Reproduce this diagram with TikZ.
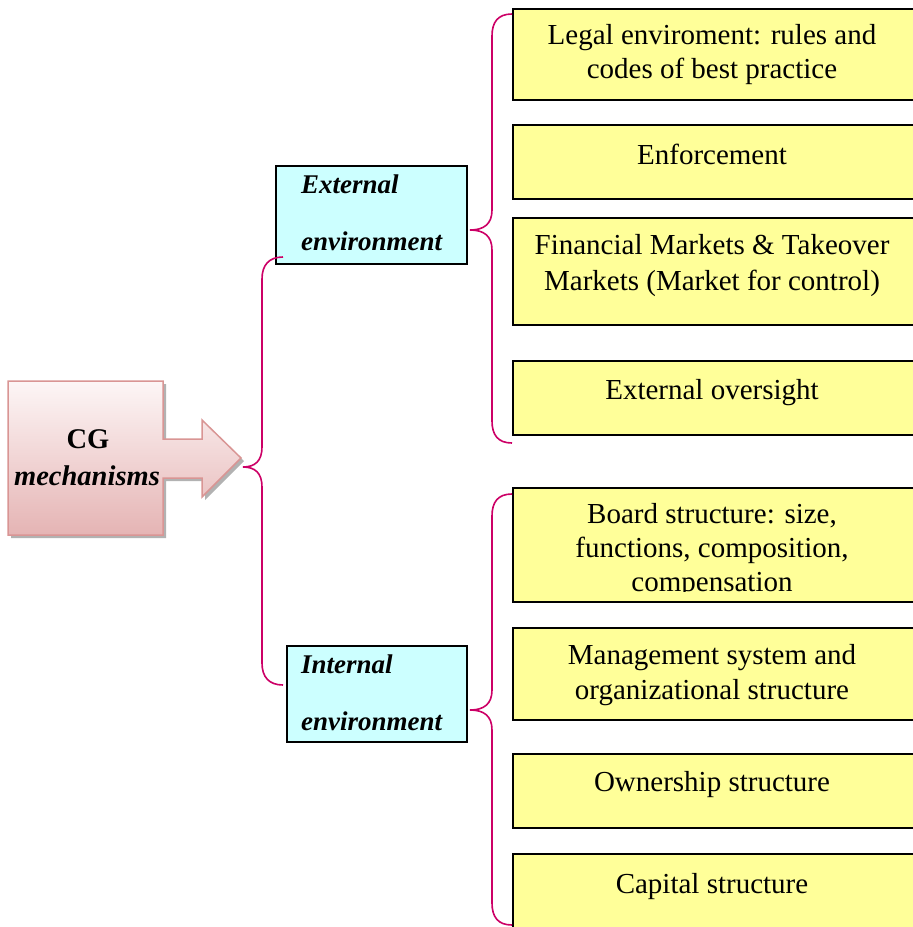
\documentclass[tikz,border=0pt]{standalone}
\usepackage{fontspec}
\setmainfont{Liberation Serif}
\definecolor{yfill}{RGB}{255,255,153}
\definecolor{cfill}{RGB}{204,255,255}
\definecolor{brc}{RGB}{204,0,102}
\definecolor{pinkline}{RGB}{217,149,148}
\definecolor{pinktop}{RGB}{253,246,246}
\definecolor{pinkbot}{RGB}{229,180,180}
\begin{document}
\begin{tikzpicture}[x=1pt,y=-1pt,
  ybox/.style={draw=black, line width=1.6pt, fill=yfill, inner sep=0pt, anchor=north west, minimum width=401pt},
  cbox/.style={draw=black, line width=1.6pt, fill=cfill, inner sep=0pt, anchor=north west},
  txt/.style={font=\fontsize{29}{34}\selectfont, inner sep=0pt, anchor=base},
  ctxt/.style={font=\fontsize{27}{32}\selectfont\bfseries\itshape, inner sep=0pt, anchor=base west},
  bracestyle/.style={draw=brc, line width=1.6pt}]
\useasboundingbox (0,0) rectangle (913,927);

% CG arrow
\fill[gray!60] (11,384) -- (166,384) -- (166,442) -- (205,442) -- (205,423) -- (244,461) -- (205,500) -- (205,481) -- (166,481) -- (166,538) -- (11,538) -- cycle;
\shade[top color=pinktop, bottom color=pinkbot, draw=pinkline, line width=1.5pt]
  (8,381) -- (163,381) -- (163,439) -- (202,439) -- (202,420) -- (241,458) -- (202,497) -- (202,478) -- (163,478) -- (163,535) -- (8,535) -- cycle;
\coordinate (cgtip) at (241,458);
\node[font=\fontsize{28.5}{34}\selectfont\bfseries, inner sep=0pt, anchor=base] (cg1) at (88,448) {CG};
\node[font=\fontsize{28.5}{34}\selectfont\bfseries\itshape, inner sep=0pt, anchor=base] (cg2) at (87,485) {mechanisms};

% cyan boxes
\node[cbox, minimum width=191pt, minimum height=98pt] (ext) at (275,165) {};
\node[ctxt] (ext1) at (301,193) {External};
\node[ctxt] (ext2) at (301,250) {environment};
\node[cbox, minimum width=180pt, minimum height=96pt] (int) at (286,645) {};
\node[ctxt] (int1) at (301,673) {Internal};
\node[ctxt] (int2) at (301,730) {environment};

% yellow boxes
\node[ybox, minimum height=91pt] (y1) at (512,8) {};
\node[txt] (y1a) at (712,44) {Legal enviroment: rules and};
\node[txt] (y1b) at (712,78) {codes of best practice};
\node[ybox, minimum height=74pt] (y2) at (512,124) {};
\node[txt] (y2a) at (712,164) {Enforcement};
\node[ybox, minimum height=107pt] (y3) at (512,217) {};
\node[txt] (y3a) at (712,254) {Financial Markets \& Takeover};
\node[txt] (y3b) at (712,290) {Markets (Market for control)};
\node[ybox, minimum height=74pt] (y4) at (512,360) {};
\node[txt] (y4a) at (712,399) {External oversight};

\node[ybox, minimum height=114pt] (y5) at (512,487) {};
\begin{scope}
\clip (512,487) rectangle (913,591);
\node[txt] (y5a) at (712,523) {Board structure: size,};
\node[txt] (y5b) at (712,557) {functions, composition,};
\node[txt] (y5c) at (712,591) {compensation};
\end{scope}
\node[ybox, minimum height=92pt] (y6) at (512,627) {};
\node[txt] (y6a) at (712,664) {Management system and};
\node[txt] (y6b) at (712,699) {organizational structure};
\node[ybox, minimum height=74pt] (y7) at (512,753) {};
\node[txt] (y7a) at (712,791) {Ownership structure};
\node[ybox, minimum height=76pt] (y8) at (512,853) {};
\node[txt] (y8a) at (712,893) {Capital structure};

% braces
\coordinate (b1top) at (283,257);
\coordinate (b1tip) at (243,467);
\coordinate (b1bot) at (283,685);
\draw[bracestyle] (b1top) .. controls (269,257) and (262,265) .. (262,279) -- (262,447)
  .. controls (262,461) and (255,467) .. (b1tip)
  .. controls (255,467) and (262,473) .. (262,487) -- (262,663)
  .. controls (262,677) and (269,685) .. (b1bot);

\coordinate (b2top) at (512,14);
\coordinate (b2tip) at (470,230);
\coordinate (b2bot) at (512,443);
\draw[bracestyle] (b2top) .. controls (498,14) and (492,22) .. (492,36) -- (492,210)
  .. controls (492,224) and (484,230) .. (b2tip)
  .. controls (484,230) and (492,236) .. (492,250) -- (492,421)
  .. controls (492,435) and (498,443) .. (b2bot);

\coordinate (b3top) at (512,494);
\coordinate (b3tip) at (470,710);
\coordinate (b3bot) at (512,925);
\draw[bracestyle] (b3top) .. controls (498,494) and (492,502) .. (492,516) -- (492,690)
  .. controls (492,704) and (484,710) .. (b3tip)
  .. controls (484,710) and (492,716) .. (492,730) -- (492,903)
  .. controls (492,917) and (498,925) .. (b3bot);
\end{tikzpicture}
\end{document}
